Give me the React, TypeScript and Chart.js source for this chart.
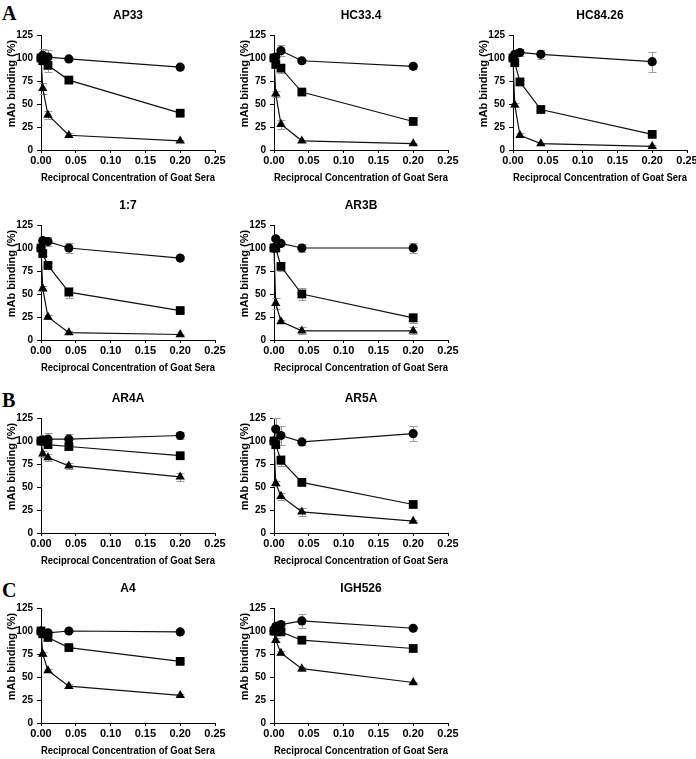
import React, { useEffect, useRef } from "react";
import { Chart, registerables } from "chart.js";

Chart.register(...registerables);

// ---------- data ----------
const concentrations = [0, 0.0025, 0.01, 0.04, 0.2];
const panelNames = ["AP33", "HC33.4", "HC84.26", "1:7", "AR3B", "AR4A", "AR5A", "A4", "IGH526"];
const xTickValues = [0, 0.05, 0.1, 0.15, 0.2, 0.25];
const yTickValues = [0, 25, 50, 75, 100, 125];
const xAxisTitle = "Reciprocal Concentration of Goat Sera";
const yAxisTitle = "mAb binding (%)";
const groupLetters = ["A", "B", "C"];

const circleValues = [
  [100, 103, 101, 99, 90],
  [100, 101, 108, 97, 91],
  [100, 104, 106, 104, 96],
  [100, 108, 107, 100, 89],
  [100, 110, 105, 100, 100],
  [100, 101, 102, 102, 106],
  [100, 113, 106, 99, 108],
  [100, 97, 98, 100, 99],
  [100, 105, 107, 111, 103],
];
const squareValues = [
  [100, 97, 92, 76, 40],
  [100, 93, 89, 63, 31],
  [100, 95, 74, 44, 17],
  [100, 94, 81, 52, 32],
  [100, 100, 80, 50, 24],
  [100, 100, 96, 94, 84],
  [100, 96, 79, 55, 31],
  [100, 97, 93, 82, 67],
  [100, 100, 99, 90, 81],
];
const triangleValues = [
  [100, 67, 38, 16, 10],
  [100, 61, 28, 10, 7],
  [100, 49, 16, 7, 4],
  [100, 56, 25, 8, 6],
  [100, 40, 20, 10, 10],
  [100, 86, 82, 73, 61],
  [100, 54, 40, 23, 13],
  [100, 75, 57, 40, 30],
  [100, 90, 76, 59, 44],
];
const circleErrors = [
  [3, 7, 8, 2, 2],
  [2, 3, 6, 2, 3],
  [2, 3, 4, 5, 11],
  [2, 4, 5, 5, 2],
  [2, 2, 2, 4, 5],
  [2, 5, 7, 6, 4],
  [2, 12, 10, 3, 8],
  [1, 2, 2, 1, 1],
  [2, 3, 4, 8, 1],
];
const squareErrors = [
  [2, 4, 7, 2, 2],
  [2, 3, 5, 2, 2],
  [2, 2, 2, 2, 2],
  [2, 3, 3, 6, 2],
  [2, 2, 5, 6, 5],
  [2, 3, 3, 2, 2],
  [2, 3, 6, 3, 2],
  [1, 2, 2, 2, 2],
  [1, 2, 2, 2, 2],
];
const triangleErrors = [
  [2, 6, 4, 2, 1],
  [2, 3, 5, 1, 1],
  [2, 2, 2, 1, 1],
  [2, 3, 2, 2, 1],
  [2, 6, 2, 4, 4],
  [2, 3, 4, 3, 4],
  [2, 3, 4, 4, 1],
  [1, 2, 2, 2, 1],
  [1, 2, 2, 2, 1],
];

// ---------- layout (plot-area corner of each panel) ----------
const panelPlacement = [
  { left: 41, top: 35 },
  { left: 274, top: 35 },
  { left: 513, top: 35 },
  { left: 41, top: 225 },
  { left: 274, top: 225 },
  { left: 41, top: 418 },
  { left: 274, top: 418 },
  { left: 41, top: 608 },
  { left: 274, top: 608 },
];
const letterPlacement = [
  { left: 2, top: 3 },
  { left: 2, top: 390 },
  { left: 2, top: 580 },
];

const FONT = "'Liberation Sans Narrow', 'Liberation Sans', Arial, sans-serif";
const CANVAS_W = 228;
const CANVAS_H = 186;
const AREA_LEFT = 41;

const errorBarPlugin = {
  id: "errorBars",
  beforeDatasetsDraw(chart: any) {
    const ctx = chart.ctx;
    const xs = chart.scales.x;
    const ys = chart.scales.y;
    ctx.save();
    ctx.strokeStyle = "#9c9c9c";
    ctx.lineWidth = 1;
    chart.data.datasets.forEach((ds: any) => {
      const errs = ds.errors;
      if (!errs) return;
      ds.data.forEach((pt: any, j: number) => {
        const e = errs[j];
        if (!e) return;
        const x = Math.round(xs.getPixelForValue(pt.x)) + 0.5;
        const y1 = Math.round(ys.getPixelForValue(pt.y + e)) + 0.5;
        const y2 = Math.round(ys.getPixelForValue(pt.y - e)) + 0.5;
        ctx.beginPath();
        ctx.moveTo(x, y1);
        ctx.lineTo(x, y2);
        ctx.moveTo(x - 4, y1);
        ctx.lineTo(x + 4, y1);
        ctx.moveTo(x - 4, y2);
        ctx.lineTo(x + 4, y2);
        ctx.stroke();
      });
    });
    ctx.restore();
  },
};

const yTitlePlugin = {
  id: "yTitle",
  afterDraw(chart: any) {
    const opts = chart.options.plugins.yTitle;
    if (!opts) return;
    const ctx = chart.ctx;
    const area = chart.chartArea;
    ctx.save();
    ctx.translate(opts.x, (area.top + area.bottom) / 2 + opts.dy);
    ctx.rotate(-Math.PI / 2);
    ctx.font = `bold ${opts.size}px ${FONT}`;
    ctx.fillStyle = "#000";
    ctx.textAlign = "center";
    ctx.textBaseline = "middle";
    ctx.fillText(opts.text, 0, 0);
    ctx.restore();
  },
};

function makeSeries(values: number[]) {
  return values.map((v, i) => ({ x: concentrations[i], y: v }));
}

function Panel({ index }: { index: number }) {
  const ref = useRef<HTMLCanvasElement | null>(null);
  useEffect(() => {
    if (!ref.current) return;
    const xTickFont = { family: FONT, size: 11, weight: "bold" as const };
    const yTickFont = { family: FONT, size: 10, weight: "bold" as const };
    const common = {
      showLine: true,
      borderColor: "#111",
      borderWidth: 1.2,
      backgroundColor: "#000",
      pointBackgroundColor: "#000",
      pointBorderColor: "#000",
      pointBorderWidth: 0,
      clip: false as any,
    };
    const chart = new Chart(ref.current, {
      type: "scatter",
      data: {
        datasets: [
          {
            ...common,
            data: makeSeries(circleValues[index]),
            errors: circleErrors[index],
            pointStyle: "circle",
            pointRadius: 4.6,
          } as any,
          {
            ...common,
            data: makeSeries(squareValues[index]),
            errors: squareErrors[index],
            pointStyle: "rect",
            pointRadius: 6.2,
          } as any,
          {
            ...common,
            data: makeSeries(triangleValues[index]),
            errors: triangleErrors[index],
            pointStyle: "triangle",
            pointRadius: 5.4,
          } as any,
        ],
      },
      options: {
        animation: false,
        responsive: false,
        devicePixelRatio: 1,
        events: [],
        layout: { padding: { left: 0, right: CANVAS_W - AREA_LEFT - 174, top: 0, bottom: 0 } },
        plugins: {
          legend: { display: false },
          tooltip: { enabled: false },
          title: {
            display: true,
            text: panelNames[index],
            fullSize: false,
            color: "#000",
            font: { family: FONT, size: 12, weight: "bold" },
            padding: { top: 8.8, bottom: 11.8 },
          },
          yTitle: { text: yAxisTitle, x: 12, dy: -9, size: 11 },
        } as any,
        scales: {
          x: {
            type: "linear",
            min: 0,
            max: 0.25,
            afterBuildTicks: (s: any) => {
              s.ticks = xTickValues.map((v) => ({ value: v }));
            },
            ticks: {
              color: "#000",
              font: xTickFont,
              padding: 1,
              maxRotation: 0,
              autoSkip: false,
              callback: (v: any) => Number(v).toFixed(2),
            },
            grid: { display: true, drawOnChartArea: false, drawTicks: true, tickLength: 3, color: "#000", lineWidth: 1 },
            border: { display: true, color: "#000", width: 1 },
            title: {
              display: true,
              text: xAxisTitle,
              color: "#000",
              font: { family: FONT, size: 11, weight: "bold" },
              padding: { top: 0, bottom: 1.4 },
            },
            afterFit: (s: any) => {
              s.height = 36;
            },
          },
          y: {
            type: "linear",
            min: 0,
            max: 125,
            afterBuildTicks: (s: any) => {
              s.ticks = yTickValues.map((v) => ({ value: v }));
            },
            ticks: { color: "#000", font: yTickFont, padding: 4 },
            grid: { display: true, drawOnChartArea: false, drawTicks: true, tickLength: 4, color: "#000", lineWidth: 1 },
            border: { display: true, color: "#000", width: 1 },
            afterFit: (s: any) => {
              s.width = AREA_LEFT;
            },
          },
        },
      } as any,
      plugins: [errorBarPlugin, yTitlePlugin],
    });
    return () => chart.destroy();
  }, [index]);
  const p = panelPlacement[index];
  return (
    <canvas
      ref={ref}
      width={CANVAS_W}
      height={CANVAS_H}
      style={{ position: "absolute", left: p.left - AREA_LEFT, top: p.top - 35, width: CANVAS_W, height: CANVAS_H }}
    />
  );
}

export default function App() {
  return (
    <div
      style={{
        position: "absolute",
        left: 0,
        top: 0,
        width: 696,
        height: 759,
        overflow: "hidden",
        background: "#fff",
      }}
    >
      {groupLetters.map((l, i) => (
        <div
          key={l}
          style={{
            position: "absolute",
            left: letterPlacement[i].left,
            top: letterPlacement[i].top,
            fontFamily: "'Liberation Serif', 'Times New Roman', serif",
            fontWeight: "bold",
            fontSize: 20,
            lineHeight: "20px",
          }}
        >
          {l}
        </div>
      ))}
      {panelNames.map((_, i) => (
        <Panel key={i} index={i} />
      ))}
    </div>
  );
}
